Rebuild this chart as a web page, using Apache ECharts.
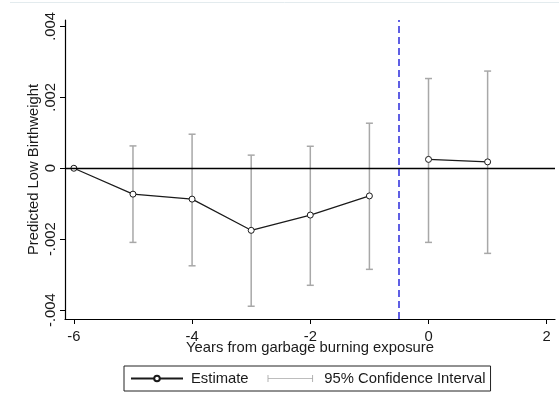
<!DOCTYPE html>
<html>
<head>
<meta charset="utf-8">
<script src="https://cdn.jsdelivr.net/npm/echarts@6/dist/echarts.min.js"></script>
<style>
  html, body { margin: 0; padding: 0; background: #fff; }
  #chart { width: 559px; height: 410px; }
</style>
</head>
<body>
<div id="chart"></div>
<script>
// Event-study estimates: years relative to garbage burning exposure
var years    = [-6, -5, -4, -3, -2, -1, 0, 1];
var estimate = [0, -0.00073, -0.00087, -0.00175, -0.00132, -0.00078, 0.00025, 0.00018];
var ciLow    = [null, -0.00209, -0.00275, -0.00389, -0.00330, -0.00285, -0.00209, -0.00240];
var ciHigh   = [null, 0.00063, 0.00096, 0.00037, 0.00062, 0.00127, 0.00253, 0.00274];

var xTicks = [-6, -4, -2, 0, 2];
var yTicks = [-0.004, -0.002, 0, 0.002, 0.004];
var yGrid  = [-0.004, -0.002, 0.002];
var exposureLine = -0.5;

var FONT = 'Liberation Sans, Arial, sans-serif';
var FS = 14.8;
var TXT = '#1a1a1a';

function fmtY(v) {
  if (Math.abs(v) < 1e-12) return '0';
  var s = String(Number(v.toFixed(3)));
  return s.replace('0.', '.');
}

var prePts = [], postPts = [], ciPts = [];
years.forEach(function (y, i) {
  if (y < exposureLine) prePts.push([y, estimate[i]]);
  else postPts.push([y, estimate[i]]);
  if (ciLow[i] !== null) ciPts.push([y, ciLow[i], ciHigh[i]]);
});

var lineStyleEst = { color: '#1a1a1a', width: 1.2 };
var markerStyle = { color: '#ffffff', borderColor: '#1a1a1a', borderWidth: 1 };

var chart = echarts.init(document.getElementById('chart'), null, { renderer: 'canvas' });
chart.setOption({
  animation: false,
  backgroundColor: '#ffffff',
  textStyle: { fontFamily: FONT },
  graphic: [{
    type: 'line', shape: { x1: 10, y1: 2.5, x2: 559, y2: 2.5 },
    style: { stroke: '#e3ebee', lineWidth: 1 }, silent: true
  }],
  grid: { left: 65, right: 4, top: 20, bottom: 91 },
  xAxis: {
    type: 'value', min: -6.15, max: 2.14,
    name: 'Years from garbage burning exposure',
    nameLocation: 'middle', nameGap: 21, nameMoveOverlap: false,
    nameTextStyle: { fontFamily: FONT, fontSize: FS, color: TXT },
    axisLine: { show: true, onZero: false, lineStyle: { color: '#000', width: 1.2 } },
    axisTick: { show: true, length: 5, customValues: xTicks, lineStyle: { color: '#000', width: 1 } },
    axisLabel: { customValues: xTicks, margin: 10, fontFamily: FONT, fontSize: FS, color: TXT,
                 formatter: function (v) { return String(v); } },
    splitLine: { show: false }
  },
  yAxis: {
    type: 'value', min: -0.00425, max: 0.00418,
    name: 'Predicted Low Birthweight',
    nameLocation: 'middle', nameGap: 24, nameMoveOverlap: false,
    nameTextStyle: { fontFamily: FONT, fontSize: FS, color: TXT },
    axisLine: { show: true, onZero: false, lineStyle: { color: '#000', width: 1.2 } },
    axisTick: { show: true, length: 5, customValues: yTicks, lineStyle: { color: '#000', width: 1 } },
    axisLabel: { customValues: yTicks, rotate: 90, margin: 7, fontFamily: FONT, fontSize: FS, color: TXT,
                 formatter: fmtY },
    splitLine: { show: false }
  },
  legend: {
    left: 124, top: 366,
    orient: 'horizontal',
    itemWidth: 52, itemHeight: 7, itemGap: 19,
    padding: [5, 5, 5, 6],
    borderColor: '#222', borderWidth: 1,
    textStyle: { fontFamily: FONT, fontSize: FS, color: TXT, padding: [0, 0, 0, 3] },
    data: [
      { name: 'Estimate' },
      { name: '95% Confidence Interval',
        icon: 'path://M0,0h1v8h-1z M1,3.6h50v0.9h-50z M51,0h1v8h-1z',
        itemStyle: { color: '#a8a8a8' } }
    ]
  },
  series: [
    {
      name: '95% Confidence Interval',
      type: 'custom',
      data: ciPts,
      z: 2,
      itemStyle: { color: '#a8a8a8' },
      renderItem: function (params, api) {
        var x = api.value(0);
        var lo = api.coord([x, api.value(1)]);
        var hi = api.coord([x, api.value(2)]);
        var cap = 3.5;
        var st = { stroke: '#a8a8a8', lineWidth: 1.5 };
        return {
          type: 'group',
          children: [
            { type: 'line', shape: { x1: lo[0], y1: lo[1], x2: hi[0], y2: hi[1] }, style: st },
            { type: 'line', shape: { x1: lo[0] - cap, y1: lo[1], x2: lo[0] + cap, y2: lo[1] }, style: st },
            { type: 'line', shape: { x1: hi[0] - cap, y1: hi[1], x2: hi[0] + cap, y2: hi[1] }, style: st }
          ]
        };
      }
    },
    {
      name: 'Estimate',
      type: 'line',
      data: prePts,
      z: 4,
      symbol: 'circle', symbolSize: 6,
      lineStyle: lineStyleEst,
      itemStyle: markerStyle,
      markLine: {
        silent: true, symbol: 'none', animation: false,
        label: { show: false },
        data: yGrid.map(function (v) {
          return { yAxis: v, lineStyle: { color: '#e6eef1', width: 1, type: 'solid' } };
        }).concat([
          { yAxis: 0, lineStyle: { color: '#000', width: 1.4, type: 'solid' } },
          { xAxis: exposureLine, lineStyle: { color: '#2b2bdc', width: 1.5, type: [7, 4] } }
        ])
      }
    },
    {
      name: 'Estimate',
      type: 'line',
      data: postPts,
      z: 4,
      symbol: 'circle', symbolSize: 6,
      lineStyle: lineStyleEst,
      itemStyle: markerStyle
    }
  ]
});
</script>
</body>
</html>
